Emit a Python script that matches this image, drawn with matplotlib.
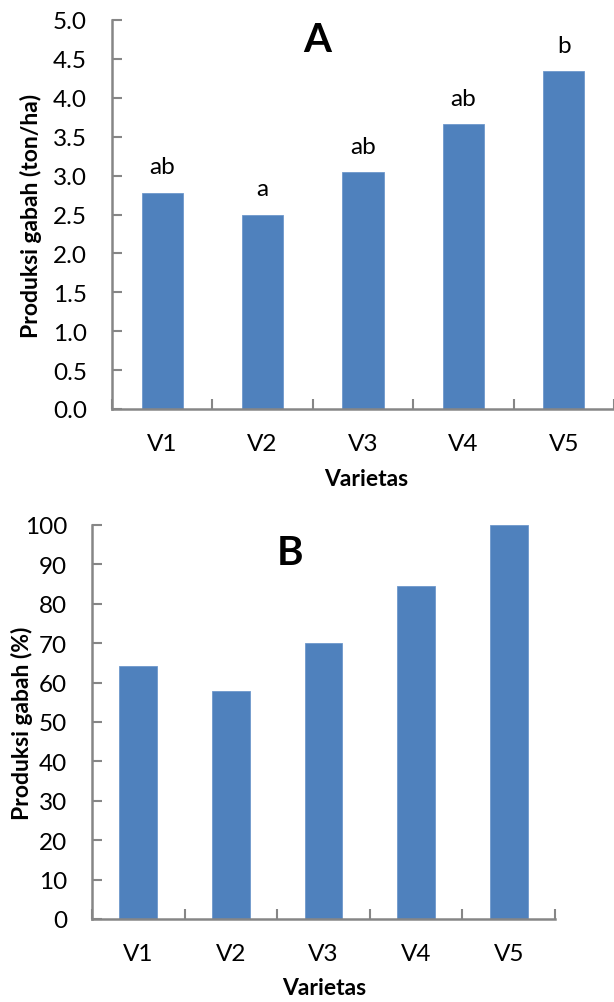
import matplotlib
matplotlib.use("Agg")
import matplotlib.pyplot as plt
import numpy as np
from matplotlib.ticker import FixedLocator

categories = ["V1", "V2", "V3", "V4", "V5"]
yield_ton = [2.78, 2.50, 3.04, 3.66, 4.34]
letters = ["ab", "a", "ab", "ab", "b"]
yield_pct = [64.2, 57.8, 70.0, 84.4, 100.0]
yticks_a = [0.0, 0.5, 1.0, 1.5, 2.0, 2.5, 3.0, 3.5, 4.0, 4.5, 5.0]
yticks_b = [0, 10, 20, 30, 40, 50, 60, 70, 80, 90, 100]

plt.rcParams['font.family'] = ['Lato', 'DejaVu Sans']
BAR = '#4F81BD'
AX = '#868686'
W, H = 614, 1003
fig = plt.figure(figsize=(W/100, H/100), dpi=100)
TS = 17.5

def px_axes(l, r, t, b):
    return fig.add_axes([l/W, 1-b/H, (r-l)/W, (b-t)/H])

def style(ax, yt, fmt):
    x = np.arange(len(categories))
    ax.set_xlim(-0.5, len(categories)-0.5)
    ax.set_xticks(x)
    ax.set_xticklabels(categories)
    ax.xaxis.set_minor_locator(FixedLocator(np.arange(len(categories)+1)-0.5))
    ax.tick_params(axis='x', which='major', length=0, pad=17, labelsize=TS)
    ax.tick_params(axis='x', which='minor', length=7, width=1.5, direction='in', color=AX)
    ax.set_yticks(yt)
    ax.set_yticklabels([fmt.format(v) for v in yt])
    ax.tick_params(axis='y', length=7, width=1.5, direction='in', color=AX, pad=18, labelsize=TS)
    for s in ['top', 'right']:
        ax.spines[s].set_visible(False)
    for s in ['left', 'bottom']:
        ax.spines[s].set_color(AX)
        ax.spines[s].set_linewidth(1.8)

# Panel A
axA = px_axes(112, 614, 21, 410)
xa = np.arange(len(categories))
axA.bar(xa, yield_ton, width=0.41, color=BAR, edgecolor='#6F98CC', linewidth=0.6, zorder=2)
axA.set_ylim(0, 5)
style(axA, yticks_a, "{:.1f}")
for xi, v, l in zip(xa, yield_ton, letters):
    axA.annotate(l, (xi, v), xytext=(0, 11), textcoords='offset points', ha='center', va='bottom', fontsize=TS)
axA.set_ylabel("Produksi gabah (ton/ha)", fontsize=16.5, fontweight='bold')
axA.yaxis.set_label_coords(-0.139, 0.5)
axA.set_xlabel("Varietas", fontsize=16.5, fontweight='bold')
axA.xaxis.set_label_coords(0.506, -0.152)
axA.text(0.408, 0.949, "A", transform=axA.transAxes, ha='center', va='center', fontsize=29, fontweight='bold')

# Panel B
axB = px_axes(92, 555, 526, 920)
xb = np.arange(len(categories))
axB.bar(xb, yield_pct, width=0.41, color=BAR, edgecolor='#6F98CC', linewidth=0.6, zorder=2)
axB.set_ylim(0, 100)
style(axB, yticks_b, "{:d}")
axB.set_ylabel("Produksi gabah (%)", fontsize=16.5, fontweight='bold')
axB.yaxis.set_label_coords(-0.127, 0.5)
axB.set_xlabel("Varietas", fontsize=16.5, fontweight='bold')
axB.xaxis.set_label_coords(0.501, -0.147)
axB.text(0.428, 0.931, "B", transform=axB.transAxes, ha='center', va='center', fontsize=29, fontweight='bold')

fig.savefig("out.png", dpi=100)
